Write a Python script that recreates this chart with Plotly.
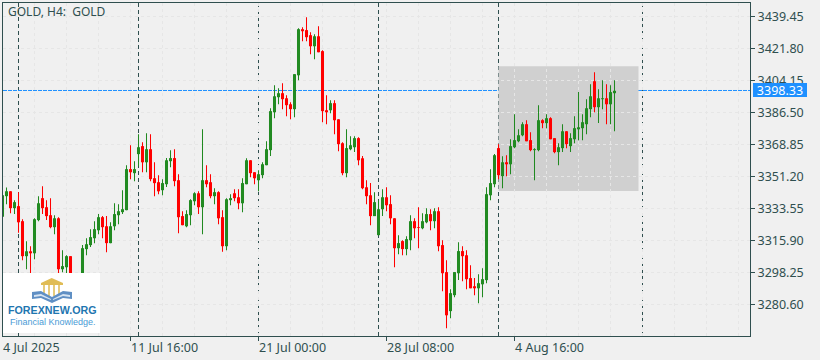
import plotly.graph_objects as go

open_ = [3328.8,3340.2,3342.9,3333.6,3334.7,3326.4,3307.1,3309.8,3308.7,3327.0,
3339.1,3334.1,3329.7,3323.1,3328.0,3299.9,3301.0,3307.1,3291.0,3286.0,
3293.9,3311.0,3313.2,3317.0,3321.4,3328.6,3323.6,3314.3,3323.6,3329.7,
3331.4,3332.5,3355.1,3352.9,3363.4,3367.8,3358.9,3366.1,3350.1,3347.9,
3343.5,3346.8,3359.5,3361.2,3349.0,3329.2,3323.6,3329.7,3337.4,3341.8,
3334.1,3349.0,3347.9,3340.2,3342.4,3328.6,3312.6,3338.0,3341.8,3339.6,
3336.3,3346.8,3360.0,3353.4,3349.0,3351.8,3357.3,3365.6,3386.5,3394.8,
3397.0,3394.2,3390.9,3388.2,3406.9,3432.3,3431.8,3429.0,3422.9,3428.4,
3420.2,3387.6,3387.6,3391.5,3382.6,3369.4,3352.9,3366.1,3367.2,3372.2,
3361.1,3345.1,3340.7,3329.2,3318.7,3333.0,3339.6,3335.8,3328.0,3311.5,
3315.4,3311.0,3315.9,3326.4,3323.1,3322.5,3325.8,3330.3,3326.4,3331.9,
3313.2,3298.3,3276.8,3285.6,3297.7,3309.9,3307.6,3295.0,3290.5,3289.4,
3291.6,3293.9,3340.7,3346.8,3366.7,3351.2,3358.9,3357.8,3367.2,3370.5,
3373.8,3379.9,3371.1,3365.6,3365.6,3382.1,3380.5,3383.2,3372.2,3364.5,
3366.7,3376.0,3367.8,3371.6,3377.1,3377.7,3379.9,3388.2,3403.6,3389.3,
3393.7,3394.2,3390.9,3397.0]

close = [3340.7,3342.9,3333.6,3336.9,3325.8,3307.1,3309.8,3308.7,3327.5,3336.3,
3333.6,3329.2,3323.1,3328.0,3299.9,3301.6,3307.1,3293.9,3286.0,3291.0,
3311.5,3313.7,3317.6,3322.0,3328.6,3323.1,3314.3,3323.6,3330.3,3331.9,
3333.0,3355.1,3353.4,3355.1,3367.2,3358.9,3366.1,3349.6,3347.4,3342.9,
3347.4,3360.0,3361.2,3348.5,3328.6,3324.2,3330.3,3338.0,3341.8,3334.1,
3349.0,3346.8,3340.2,3342.4,3328.0,3312.6,3338.5,3339.1,3339.1,3336.3,
3347.4,3360.0,3352.9,3350.1,3352.3,3357.8,3366.1,3387.1,3395.3,3397.0,
3393.7,3390.4,3388.2,3407.5,3432.3,3431.2,3427.9,3422.9,3428.4,3419.6,
3387.1,3386.5,3391.5,3382.1,3368.9,3352.9,3366.7,3368.3,3372.2,3360.0,
3344.6,3340.2,3329.2,3336.9,3333.0,3339.6,3335.2,3328.0,3311.5,3314.3,
3311.0,3316.5,3326.4,3322.5,3322.7,3326.4,3330.3,3326.4,3331.9,3312.6,
3297.7,3274.5,3286.7,3298.3,3309.9,3307.1,3294.4,3289.4,3289.4,3292.2,
3294.4,3341.3,3347.4,3362.8,3351.8,3358.9,3357.8,3367.8,3371.1,3373.8,
3379.9,3370.5,3365.6,3366.1,3382.1,3380.5,3383.2,3371.6,3364.5,3367.2,
3376.0,3368.9,3372.2,3377.7,3378.2,3381.0,3388.7,3395.3,3389.3,3394.2,
3394.2,3390.9,3397.6,3398.33]

high = [3340.7,3345.0,3342.9,3338.0,3342.4,3327.5,3315.4,3312.6,3328.0,3340.2,
3345.7,3338.0,3339.1,3329.7,3328.6,3310.4,3307.6,3307.1,3292.0,3293.0,
3313.2,3317.0,3322.0,3326.4,3330.3,3329.2,3329.2,3325.8,3336.3,3335.8,
3343.5,3357.3,3368.3,3359.5,3374.4,3370.0,3374.9,3374.4,3358.9,3351.8,
3349.6,3361.2,3365.6,3366.1,3352.3,3331.9,3332.5,3338.5,3342.4,3342.9,
3377.1,3357.3,3352.3,3344.6,3342.9,3332.5,3339.1,3341.3,3344.0,3344.0,
3350.1,3361.1,3360.0,3353.4,3354.5,3358.9,3370.5,3388.7,3401.4,3399.8,
3402.5,3395.9,3392.0,3407.5,3432.9,3433.4,3438.9,3430.6,3429.5,3434.0,
3420.7,3395.9,3393.1,3393.1,3382.6,3370.0,3377.1,3373.3,3373.3,3372.7,
3362.3,3349.0,3347.4,3342.4,3338.0,3344.0,3345.1,3340.7,3328.0,3318.7,
3315.9,3318.1,3329.7,3328.0,3334.1,3330.8,3333.6,3333.0,3333.6,3334.1,
3315.9,3304.9,3288.9,3298.3,3314.8,3312.6,3310.4,3302.1,3295.0,3297.2,
3300.5,3345.1,3355.1,3363.4,3368.9,3362.2,3362.8,3371.6,3385.4,3377.1,
3381.0,3382.1,3375.5,3366.7,3390.4,3382.7,3385.4,3383.8,3372.2,3369.4,
3379.9,3376.0,3374.9,3384.3,3397.6,3385.4,3393.7,3402.0,3408.6,3399.2,
3404.2,3402.0,3401.4,3404.2]

low = [3328.8,3335.8,3330.8,3330.3,3320.0,3304.9,3299.9,3293.9,3305.4,3326.4,
3330.3,3327.0,3322.5,3319.2,3296.6,3298.3,3296.6,3292.0,3284.0,3284.0,
3293.0,3307.6,3312.1,3314.3,3319.2,3317.0,3309.3,3314.3,3321.4,3324.7,
3330.3,3332.5,3349.6,3348.5,3356.7,3353.4,3353.4,3348.5,3340.2,3341.3,
3340.7,3345.2,3356.2,3345.7,3319.8,3324.2,3323.1,3324.2,3335.2,3330.3,
3319.2,3345.1,3339.1,3335.8,3324.7,3309.5,3310.4,3335.2,3337.4,3333.0,
3331.4,3346.8,3350.7,3346.8,3342.9,3350.1,3357.3,3362.3,3383.2,3390.9,
3388.2,3384.3,3382.7,3383.8,3404.2,3425.7,3425.7,3418.5,3415.8,3419.6,
3381.0,3379.9,3386.0,3374.4,3365.0,3351.8,3350.7,3365.6,3364.5,3357.3,
3344.0,3335.8,3324.2,3329.2,3318.7,3329.2,3331.9,3324.7,3301.0,3308.2,
3307.6,3307.6,3310.4,3317.0,3311.5,3322.0,3325.3,3321.4,3322.5,3309.8,
3287.8,3267.4,3272.9,3284.5,3293.9,3293.3,3288.9,3289.4,3285.6,3281.2,
3284.5,3292.2,3338.0,3345.1,3349.6,3344.6,3351.2,3352.3,3366.7,3370.0,
3373.3,3370.5,3365.0,3349.0,3365.0,3377.7,3377.7,3371.6,3363.9,3357.3,
3364.5,3366.7,3364.5,3369.4,3371.1,3371.1,3374.4,3383.8,3386.5,3380.5,
3388.2,3379.9,3379.9,3376.0]

price_ticks = [3439.45,3421.80,3404.15,3386.50,3368.85,3351.20,3333.55,3315.90,3298.25,3280.60]
price_labels = ["3439.45","3421.80","3404.15","3386.50","3368.85","3351.20","3333.55","3315.90","3298.25","3280.60"]
date_bars = [0,32,64,96,128]
date_labels = ["4 Jul 2025","11 Jul 16:00","21 Jul 00:00","28 Jul 08:00","4 Aug 16:00"]
separators = [4,34,64,94,124,160]
grid_bars = list(range(0,188,8))
last_price = 3398.33
last_line_level = 3398.5
box_bars = [124,159]
box_prices = [3343.0,3411.9]

INK = "#2F4F4F"
BG = "#F0F0F0"
UP = "#228B22"
DOWN = "#FF0000"
W, H = 820, 360
L, R, T, B = 3, 750, 3, 336
FONT = "Noto Sans"

def px(x): return (x - L) / (R - L)
def py(y): return (B - y) / (B - T)

bars = list(range(len(close)))
colors = [UP if c >= o else DOWN for o, c in zip(open_, close)]

fig = go.Figure()
fig.add_bar(x=bars, base=low, y=[round(h - l, 2) for h, l in zip(high, low)], width=0.25,
            marker=dict(color=colors, line=dict(color=colors, width=0.02)), hoverinfo="skip")
fig.add_bar(x=bars, base=[min(o, c) for o, c in zip(open_, close)],
            y=[round(abs(o - c), 2) for o, c in zip(open_, close)], width=0.75,
            marker=dict(color=colors, line=dict(color=colors, width=0.02)), hoverinfo="skip")

shapes = [dict(type="rect", xref="x", yref="y", x0=box_bars[0], x1=box_bars[1],
               y0=box_prices[0], y1=box_prices[1], fillcolor="#D0D0D0",
               line_width=0, layer="below")]
for b in separators:
    shapes.append(dict(type="line", xref="x", yref="paper", x0=b, x1=b, y0=0, y1=1,
                       line=dict(color=INK, width=1, dash="4px,3px"), layer="between"))
shapes.append(dict(type="line", xref="paper", yref="y", x0=0, x1=1, y0=last_line_level, y1=last_line_level,
                   line=dict(color="#1E90FF", width=1, dash="4px,1px"), layer="between"))

def logo_rect(x0, y0, x1, y1, color):
    return dict(type="rect", xref="paper", yref="paper", x0=px(x0), x1=px(x1), y0=py(y0), y1=py(y1),
                fillcolor=color, line_width=0, layer="above")
def logo_poly(points, color):
    d = "M " + " L ".join(f"{px(a):.5f},{py(b):.5f}" for a, b in points) + " Z"
    return dict(type="path", xref="paper", yref="paper", path=d, fillcolor=color, line_width=0, layer="above")

shapes.append(logo_rect(3, 273, 100, 333, "#FFFFFF"))
shapes.append(logo_poly([(41,283),(51.7,278),(63,283),(63,285),(41,285)], "#E0BC55"))
for cx in (44, 49, 54, 59):
    shapes.append(logo_rect(cx-0.9, 285, cx+0.9, 296, "#E4C66E"))
shapes.append(logo_poly([(32,292),(41,291),(52,297),(52,303),(41,298),(32,299)], "#5F8FC4"))
shapes.append(logo_poly([(72,292),(63,291),(52,297),(52,303),(63,298),(72,299)], "#5F8FC4"))
shapes.append(logo_poly([(34,295),(41,294),(51,299),(51,300),(41,296),(34,297)], "#D6E4F2"))
shapes.append(logo_poly([(70,295),(63,294),(53,299),(53,300),(63,296),(70,297)], "#D6E4F2"))

annotations = [
    dict(xref="paper", yref="paper", x=px(6), y=py(11), xanchor="left", yanchor="middle",
         text="GOLD, H4:\u00a0\u00a0GOLD", showarrow=False, font=dict(family=FONT, size=12, color=INK)),
    dict(xref="paper", yref="paper", x=px(753), y=py(90), xanchor="left", yanchor="middle",
         text=f"{last_price:.2f}", showarrow=False, bgcolor="#1E90FF", width=54, height=14,
         borderpad=0, borderwidth=0, align="center", font=dict(family=FONT, size=12.5, color="#FFFFFF")),
    dict(xref="paper", yref="paper", x=px(52), y=py(310), xanchor="center", yanchor="middle",
         text="<b>FOREXNEW.ORG</b>", showarrow=False, font=dict(family="Liberation Sans", size=10.7, color="#1F76B0")),
    dict(xref="paper", yref="paper", x=px(52.5), y=py(322), xanchor="center", yanchor="middle",
         text="Financial Knowledge.", showarrow=False, font=dict(family="Liberation Sans", size=9, color="#4A9BD6")),
]
for b, t in zip(date_bars, date_labels):
    annotations.append(dict(xref="paper", yref="paper", x=px(0.5 + 4 * b), y=py(347), xanchor="left", yanchor="middle",
                            text=t, showarrow=False, font=dict(family=FONT, size=12.5, color=INK)))

GRID = "#E6E6E6"
fig.update_layout(
    width=W, height=H, autosize=False, barmode="overlay",
    margin=dict(l=L, r=W-R, t=T, b=H-B, pad=0),
    paper_bgcolor=BG, plot_bgcolor=BG, showlegend=False,
    shapes=shapes, annotations=annotations,
    xaxis=dict(range=[0.125, 186.875], showline=True, mirror=True,
               linecolor=INK, linewidth=1, tickmode="array", tickvals=date_bars,
               ticktext=[""]*len(date_bars), ticks="outside", ticklen=4, tickcolor=INK,
               showgrid=True, gridcolor=GRID, griddash="3px,3px", gridwidth=1, zeroline=False,
               minor=dict(tickmode="array", tickvals=grid_bars, showgrid=True, gridcolor=GRID,
                          griddash="3px,3px", gridwidth=1, ticks="")),
    yaxis=dict(range=[3263.07, 3446.76], side="right", showline=True, mirror=True,
               linecolor=INK, linewidth=1, tickmode="array", tickvals=price_ticks,
               ticktext=price_labels, ticks="outside", ticklen=4, tickcolor=INK,
               tickfont=dict(family=FONT, size=12.5, color=INK), automargin=False,
               showgrid=True, gridcolor=GRID, griddash="3px,3px", gridwidth=1, zeroline=False),
)
fig.write_html("out.html", config=dict(displayModeBar=False),
               post_script="document.body.style.margin='0';document.body.style.background='#F0F0F0';document.body.style.overflow='hidden';")
